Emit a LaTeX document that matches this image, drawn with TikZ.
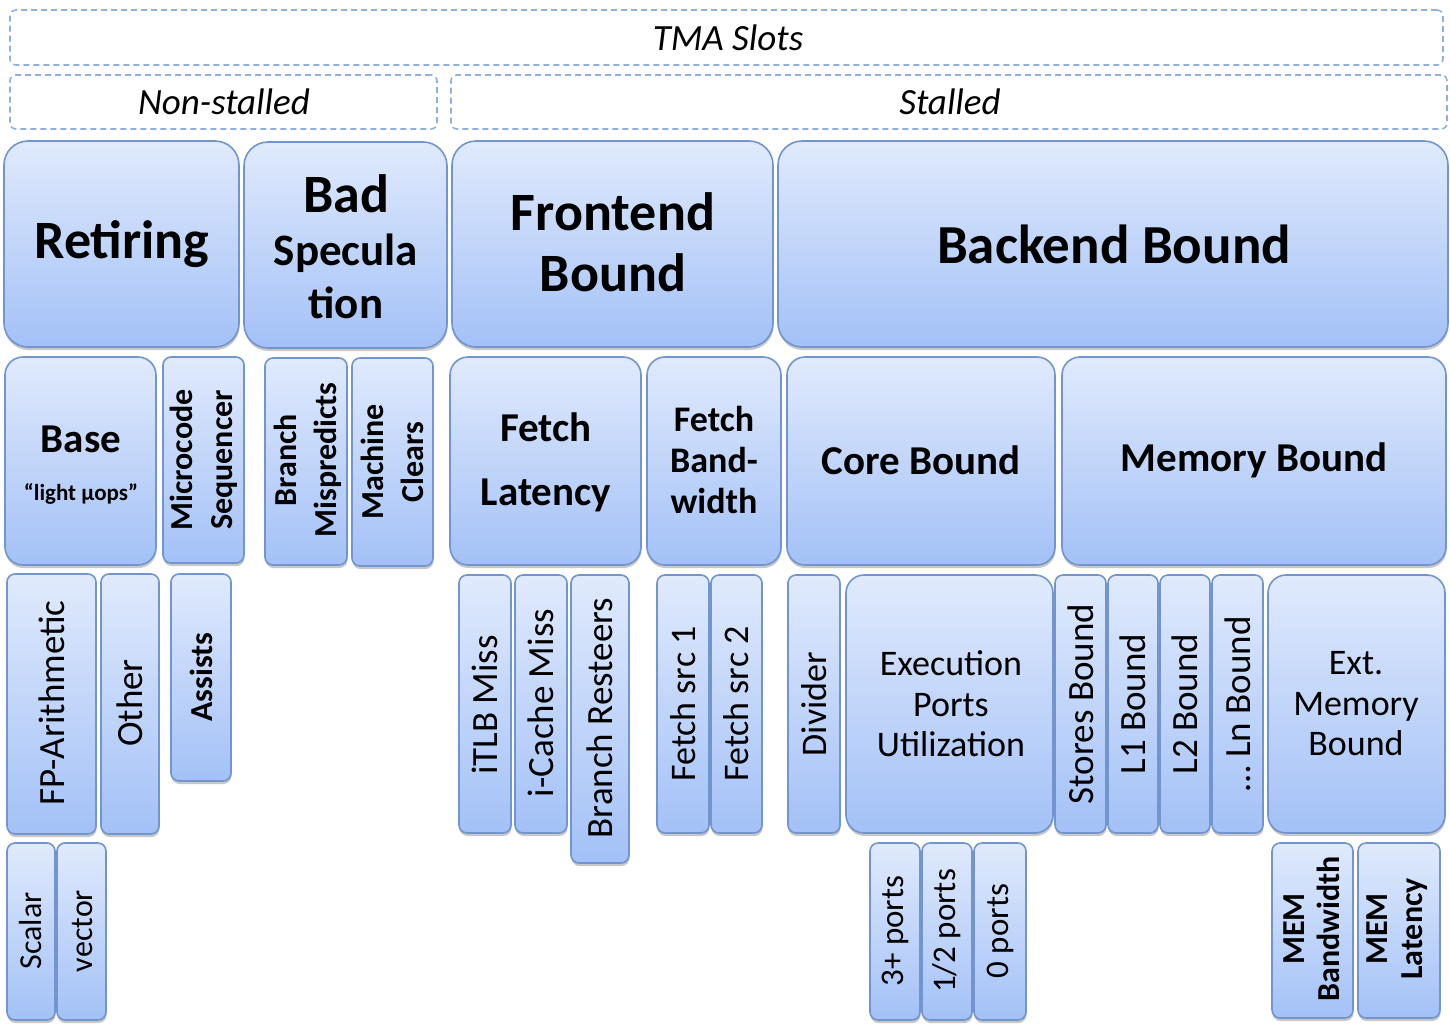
\documentclass[tikz,border=0pt]{standalone}
\usepackage{fontspec}
\setmainfont{Carlito}
\usetikzlibrary{fit,shadows}
\definecolor{bfillA}{HTML}{E0EAFC}
\definecolor{bfillB}{HTML}{A3C1F7}
\definecolor{bline}{HTML}{7195CC}
\definecolor{dline}{HTML}{8FB0DE}
\newcommand\fsz[2]{\fontsize{#1}{#2}\selectfont}
\newcommand\bx[6]{\node[#6, fit={(#2,#3) (#4,#5)}] (#1) {};}
\begin{document}
\begin{tikzpicture}[x=1pt,y=-1pt,
 box/.style={draw=bline, line width=1.6pt, top color=bfillA, bottom color=bfillB, inner sep=0pt, outer sep=0pt,
   drop shadow={shadow xshift=0.5pt, shadow yshift=-3pt, opacity=0.22, fill=black}},
 bigbox/.style={box, rounded corners=24pt},
 midbox/.style={box, rounded corners=18pt},
 thinbox/.style={box, rounded corners=8pt},
 dbox/.style={draw=dline, line width=1.6pt, dash pattern=on 6pt off 4pt, rounded corners=6pt, inner sep=0pt},
 lab/.style={align=center, inner sep=0pt, text=black},
 vlab/.style={lab, rotate=90},
]
\useasboundingbox (0,0) rectangle (1450,1033);
% dashed groups
\bx{tma}{10}{10}{1443}{65}{dbox}
\bx{nst}{10}{75}{437}{129}{dbox}
\bx{st}{451}{75}{1447}{129}{dbox}
\node[lab, font=\itshape\fsz{37}{40}] (tmaT) at (728,38) {TMA Slots};
\node[lab, font=\itshape\fsz{37}{40}] (nstT) at (224,102) {Non-stalled};
\node[lab, font=\itshape\fsz{37}{40}] (stT) at (950,102) {Stalled};
% top row
\bx{ret}{4}{141}{239}{347}{bigbox}
\bx{bad}{244}{142}{447}{348}{bigbox}
\bx{fe}{452}{141}{773}{347}{bigbox}
\bx{be}{778}{141}{1448}{347}{bigbox}
\node[lab, font=\bfseries\fsz{54}{60}] (retT) at (122,244) {Retiring};
\node[lab, font=\bfseries\fsz{45}{53}] (badT) at (346,247) {{\fsz{54}{53}Bad}\\Specula\\tion};
\node[lab, font=\bfseries\fsz{54}{61}] (feT) at (613,242) {Frontend\\Bound};
\node[lab, font=\bfseries\fsz{55}{60}] (beT) at (1114,244) {Backend Bound};
% middle row
\bx{base}{5}{357}{156}{565}{midbox}
\bx{ms}{163}{357}{244}{563}{thinbox}
\bx{bm}{265}{358}{347}{565}{thinbox}
\bx{mc}{352}{358}{433}{566}{thinbox}
\bx{fl}{450}{357}{641}{565}{midbox}
\bx{fb}{647}{357}{781}{565}{midbox}
\bx{cb}{787}{357}{1055}{565}{midbox}
\bx{mb}{1062}{357}{1446}{565}{midbox}
\node[lab, font=\bfseries\fsz{41}{48}] (baseT) at (81,465) {Base\\{\fsz{23}{48}“light µops”}};
\node[vlab, font=\bfseries\fsz{32}{40}] (msT) at (204,460) {Microcode\\Sequencer};
\node[vlab, font=\bfseries\fsz{32}{40}] (bmT) at (308,460) {Branch\\Mispredicts};
\node[vlab, font=\bfseries\fsz{32}{40}] (mcT) at (392,462) {Machine\\Clears};
\node[lab, font=\bfseries\fsz{41}{64}] (flT) at (546,462) {Fetch\\Latency};
\node[lab, font=\bfseries\fsz{36}{41}] (fbT) at (714,460) {Fetch\\Band-\\width};
\node[lab, font=\bfseries\fsz{41}{48}] (cbT) at (921,460) {Core Bound};
\node[lab, font=\bfseries\fsz{41}{48}] (mbT) at (1254,460) {Memory Bound};
% bottom rows
\bx{fp}{7}{574}{96}{834}{thinbox}
\bx{oth}{101}{574}{159}{834}{thinbox}
\bx{ass}{171}{574}{231}{781}{thinbox}
\bx{sca}{7}{843}{55}{1020}{thinbox}
\bx{vec}{57}{843}{106}{1020}{thinbox}
\bx{itlb}{459}{575}{511}{833}{thinbox}
\bx{icm}{515}{575}{567}{833}{thinbox}
\bx{brr}{571}{575}{629}{863}{thinbox}
\bx{fsa}{657}{575}{709}{833}{thinbox}
\bx{fsb}{711}{575}{762}{833}{thinbox}
\bx{div}{788}{575}{840}{833}{thinbox}
\bx{epu}{846}{575}{1053}{833}{midbox}
\bx{stb}{1055}{575}{1106}{833}{thinbox}
\bx{lone}{1108}{575}{1158}{833}{thinbox}
\bx{ltwo}{1160}{575}{1210}{833}{thinbox}
\bx{lnb}{1212}{575}{1263}{833}{thinbox}
\bx{ext}{1268}{575}{1445}{833}{midbox}
\bx{pthree}{870}{843}{920}{1020}{thinbox}
\bx{ptwo}{922}{843}{972}{1020}{thinbox}
\bx{pzero}{974}{843}{1026}{1020}{thinbox}
\bx{mbw}{1272}{843}{1353}{1018}{thinbox}
\bx{mlat}{1358}{843}{1440}{1018}{thinbox}
\node[vlab, font=\fsz{37}{40}] (fpT) at (52,703) {FP-Arithmetic};
\node[vlab, font=\fsz{37}{40}] (othT) at (130,703) {Other};
\node[vlab, font=\bfseries\fsz{32}{40}] (assT) at (201,677) {Assists};
\node[vlab, font=\fsz{32}{40}] (scaT) at (31,931) {Scalar};
\node[vlab, font=\fsz{32}{40}] (vecT) at (82,931) {vector};
\node[vlab, font=\fsz{37}{40}] (itlbT) at (485,705) {iTLB Miss};
\node[vlab, font=\fsz{37}{40}] (icmT) at (541,703) {i-Cache Miss};
\node[vlab, font=\fsz{37}{40}] (brrT) at (600,718) {Branch Resteers};
\node[vlab, font=\fsz{36}{40}] (fsaT) at (683,704) {Fetch src 1};
\node[vlab, font=\fsz{36}{40}] (fsbT) at (736,704) {Fetch src 2};
\node[vlab, font=\fsz{36}{40}] (divT) at (814,704) {Divider};
\node[lab, font=\fsz{36}{40.5}] (epuT) at (951,704) {Execution\\Ports\\Utilization};
\node[vlab, font=\fsz{37}{40}] (stbT) at (1081,704) {Stores Bound};
\node[vlab, font=\fsz{37}{40}] (loneT) at (1133,704) {L1 Bound};
\node[vlab, font=\fsz{37}{40}] (ltwoT) at (1185,704) {L2 Bound};
\node[vlab, font=\fsz{37}{40}] (lnbT) at (1238,704) {… Ln Bound};
\node[lab, font=\fsz{36}{40.5}] (extT) at (1356,704) {Ext.\\Memory\\Bound};
\node[vlab, font=\fsz{33}{40}] (pthreeT) at (895,931) {3+ ports};
\node[vlab, font=\fsz{33}{40}] (ptwoT) at (947,931) {1/2 ports};
\node[vlab, font=\fsz{33}{40}] (pzeroT) at (1000,931) {0 ports};
\node[vlab, font=\bfseries\fsz{32}{35}] (mbwT) at (1312,929) {MEM\\Bandwidth};
\node[vlab, font=\bfseries\fsz{32}{35}] (mlatT) at (1397,929) {MEM\\Latency};
\end{tikzpicture}
\end{document}
